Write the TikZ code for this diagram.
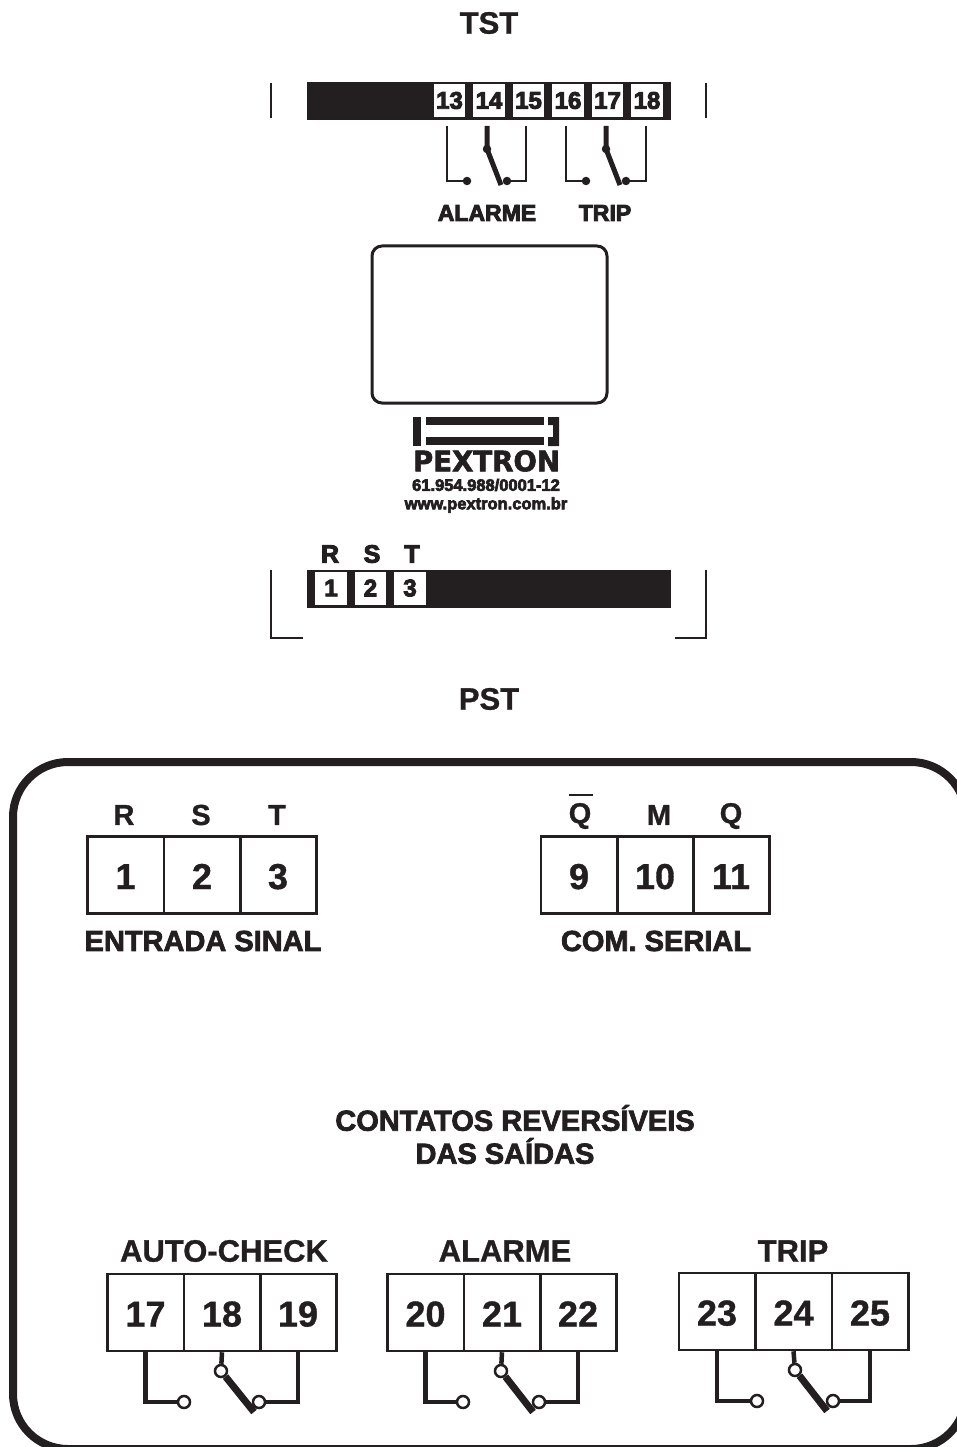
\documentclass[tikz,border=0pt]{standalone}
\usepackage{fontspec}
\setmainfont{Liberation Sans}
\newfontfamily\heavyfont{Liberation Sans}[BoldFeatures={FakeBold=2.5}]
\newfontfamily\smallfont{Liberation Sans}[BoldFeatures={FakeBold=4}]
\newfontfamily\lblfont{Liberation Sans}[BoldFeatures={FakeBold=1}]
\newfontfamily\logofont{DejaVu Sans}[BoldFeatures={FakeBold=2}]
\definecolor{ink}{HTML}{231F20}
\newcommand{\fsz}[1]{\fontsize{#1}{#1}\selectfont}
\tikzset{
  label/.style={text=ink,inner sep=0pt,font=\lblfont\bfseries\fsz{#1}},
  heavy/.style={text=ink,inner sep=0pt,font=\heavyfont\bfseries\fsz{#1}},
  tiny/.style={text=ink,inner sep=0pt,font=\smallfont\bfseries\fsz{#1}},
  strip/.style={fill=ink,inner sep=0pt,minimum width=364,minimum height=38},
  pin/.style={fill=white,text=ink,inner sep=0pt,minimum width=31.5,minimum height=33,font=\smallfont\bfseries\fsz{24}},
  cell/.style={draw=ink,line width=2.5,text=ink,inner sep=0pt,minimum width=76.5,minimum height=77,text height=28,text depth=0,font=\lblfont\bfseries\fsz{36}},
  sdot/.style={circle,fill=ink,inner sep=0pt,minimum size=8.5},
  odot/.style={circle,draw=ink,fill=white,line width=2.5,inner sep=0pt,minimum size=12},
  wire/.style={draw=ink,line width=2.5},
  wirefat/.style={draw=ink,line width=4.5},
  lever/.style={draw=ink,line width=5},
  leverfat/.style={draw=ink,line width=7},
  case/.style={draw=ink,line width=2.5}
}
\begin{document}
\begin{tikzpicture}[x=1pt,y=-1pt]
\clip (0,0) rectangle (957,1447);

\node[label=31] (tst) at (489,23) {TST};
\node[label=31] (pst) at (489,699) {PST};

% top connector
\node[strip] (stripa) at (489,101) {};
\node[pin] (p13) at (449.5,100.5) {13};
\node[pin] (p14) at (489,100.5) {14};
\node[pin] (p15) at (528.5,100.5) {15};
\node[pin] (p16) at (568,100.5) {16};
\node[pin] (p17) at (607.5,100.5) {17};
\node[pin] (p18) at (647,100.5) {18};

\coordinate (ta1) at (271,83);
\coordinate (ta2) at (271,118);
\coordinate (tb1) at (706,83);
\coordinate (tb2) at (706,118);
\path[case] (ta1) -- (ta2);
\path[case] (tb1) -- (tb2);

\coordinate (w13) at (447,126);
\coordinate (w14) at (487,126);
\coordinate (w15) at (526,126);
\coordinate (w16) at (566,126);
\coordinate (w17) at (606,126);
\coordinate (w18) at (646,126);
\node[sdot] (a13) at (467,181) {};
\node[sdot] (a14) at (487,149) {};
\node[sdot] (a15) at (507,181) {};
\node[sdot] (a16) at (586,181) {};
\node[sdot] (a17) at (606,149) {};
\node[sdot] (a18) at (626,181) {};
\coordinate (e14) at (501,185);
\coordinate (e17) at (620,185);

\path[wire] (w13) |- (a13);
\path[lever] (w14) -- (a14.center) -- (e14);
\path[wire] (w15) |- (a15);
\path[wire] (w16) |- (a16);
\path[lever] (w17) -- (a17.center) -- (e17);
\path[wire] (w18) |- (a18);

\node[tiny=23] (alarmea) at (487,213) {ALARME};
\node[tiny=23] (tripa) at (605,213) {TRIP};

% display
\node[draw=ink,line width=3,rounded corners=10,minimum width=235,minimum height=157] (display) at (489.5,324.5) {};

% logo
\path[fill=ink] (413,417) rectangle (421,446);
\path[fill=ink] (426,417) rectangle (544,425);
\path[fill=ink] (426,437) rectangle (544,445);
\path[fill=ink] (548,417) -- (559,417) -- (559,446) -- (548,446) -- (548,437) -- (553,437) -- (553,425) -- (548,425) -- cycle;
\node[text=ink,inner sep=0pt] (pextron) at (486.5,461) {\resizebox{147pt}{21pt}{\logofont\bfseries PEXTRON}};
\node[tiny=16.5] (cnpj) at (486,485) {61.954.988/0001-12};
\node[tiny=16.5] (site) at (486,505) {www.pextron.com.br};

% bottom connector
\node[tiny=25] (ra) at (330,554) {R};
\node[tiny=25] (sa) at (372,554) {S};
\node[tiny=25] (ta) at (412,554) {T};
\node[strip] (stripb) at (489,588.5) {};
\node[pin] (p1) at (331,588) {1};
\node[pin] (p2) at (370.5,588) {2};
\node[pin] (p3) at (410,588) {3};

\coordinate (ba1) at (271,570);
\coordinate (ba2) at (303,638);
\coordinate (bb1) at (706,570);
\coordinate (bb2) at (675,638);
\path[case] (ba1) |- (ba2);
\path[case] (bb1) |- (bb2);

% panel
\path[draw=ink,line width=8,rounded corners=55] (13,762) rectangle (966,1449);

\node[label=29] (r) at (124,815) {R};
\node[label=29] (s) at (201,815) {S};
\node[label=29] (t) at (277,815) {T};
\node[cell] (c1) at (125.5,875) {1};
\node[cell] (c2) at (202,875) {2};
\node[cell] (c3) at (278,875) {3};
\node[heavy=29] (entrada) at (203,941) {ENTRADA SINAL};

\node[label=29] (qn) at (580,816) {Q};
\node[label=29] (m) at (659,815) {M};
\node[label=29] (q) at (731,816) {Q};
\coordinate (qa) at (569,795);
\coordinate (qb) at (593,795);
\path[wire] (qa) -- (qb);
\node[cell] (c9) at (579,875) {9};
\node[cell] (c10) at (655,875) {10};
\node[cell] (c11) at (731,875) {11};
\node[heavy=29] (serial) at (656,941) {COM. SERIAL};

\node[heavy=29] (cont) at (515,1118) {CONTATOS REVERSÍVEIS};
\node[heavy=29] (das) at (505,1151) {DAS SAÍDAS};

\node[label=31] (auto) at (224,1251) {AUTO-CHECK};
\node[label=31] (alarmeb) at (505,1251) {ALARME};
\node[label=31] (tripb) at (793,1251) {TRIP};

\node[cell] (c17) at (145.5,1312.5) {17};
\node[cell] (c18) at (222,1312.5) {18};
\node[cell] (c19) at (298,1312.5) {19};
\node[cell] (c20) at (425.5,1312.5) {20};
\node[cell] (c21) at (502,1312.5) {21};
\node[cell] (c22) at (578,1312.5) {22};
\node[cell] (c23) at (717,1311.5) {23};
\node[cell] (c24) at (793.5,1311.5) {24};
\node[cell] (c25) at (870,1311.5) {25};

\node[odot] (o17) at (184,1402) {};
\node[odot] (o18) at (221,1371) {};
\node[odot] (o19) at (259,1402) {};
\node[odot] (o20) at (463,1402) {};
\node[odot] (o21) at (501,1371) {};
\node[odot] (o22) at (539,1402) {};
\node[odot] (o23) at (757,1401) {};
\node[odot] (o24) at (795,1370) {};
\node[odot] (o25) at (833,1401) {};
\coordinate (e18) at (254,1412);
\coordinate (e21) at (533,1412);
\coordinate (e24) at (827,1411);

\path[wirefat] (c17.south) |- (o17);
\path[wirefat] (c18.south) -- (o18);
\path[leverfat] (o18) -- (e18);
\path[wirefat] (c19.south) |- (o19);
\path[wirefat] (c20.south) |- (o20);
\path[wirefat] (c21.south) -- (o21);
\path[leverfat] (o21) -- (e21);
\path[wirefat] (c22.south) |- (o22);
\path[wirefat] (c23.south) |- (o23);
\path[wirefat] (c24.south) -- (o24);
\path[leverfat] (o24) -- (e24);
\path[wirefat] (c25.south) |- (o25);
\end{tikzpicture}
\end{document}
